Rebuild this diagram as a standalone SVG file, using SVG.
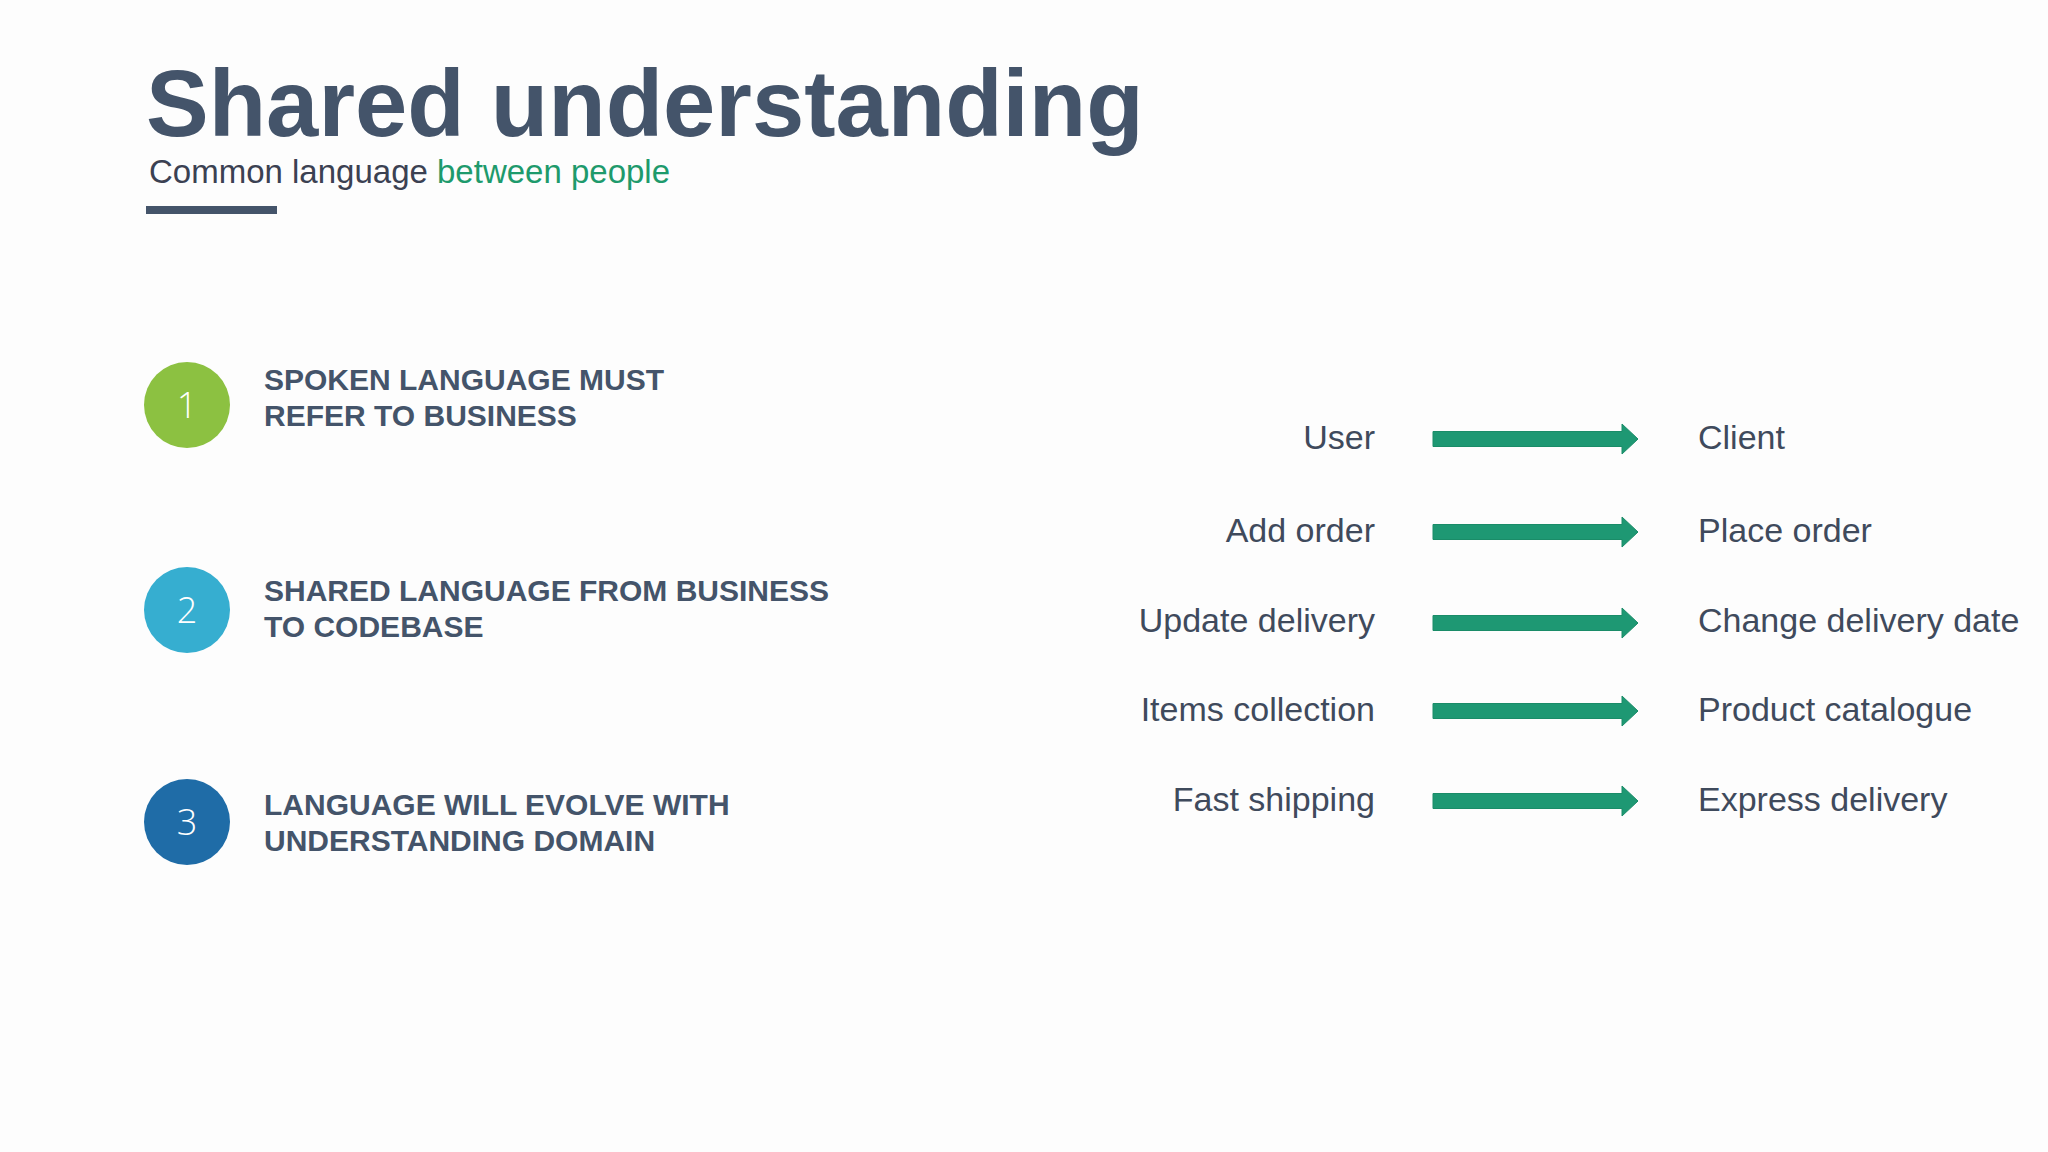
<svg xmlns="http://www.w3.org/2000/svg" width="2048" height="1152" viewBox="0 0 2048 1152">
<style>
.title{font-family:"Liberation Sans",Arial,sans-serif;font-weight:bold;font-size:94px;fill:#44546a}
.sub{font-family:"Liberation Sans",Arial,sans-serif;font-size:33px;fill:#3b4152}
.green{fill:#1e9a6c}
.item{font-family:"Liberation Sans",Arial,sans-serif;font-weight:bold;font-size:30px;fill:#44546a}
.num{font-family:"Open Sans",sans-serif;font-weight:300;font-size:36px;fill:#ffffff;text-anchor:middle}
.lbl{font-family:"Liberation Sans",Arial,sans-serif;font-size:34px;fill:#3f4a5c}
.lft{text-anchor:end}
.arrow{fill:#1e9873;stroke:#1a8c68;stroke-width:1}
</style>
<defs>
<path id="arr" d="M0,-7.5 H189 V-15 L205,0 L189,15 V7.5 H0 Z"/>
</defs>
<rect width="2048" height="1152" fill="#fdfdfd"/>
<g id="header">
<text class="title" x="146" y="136">Shared understanding</text>
<text class="sub" x="149" y="183">Common language <tspan class="green">between people</tspan></text>
<rect x="146" y="206" width="131" height="8" fill="#44546a"/>
</g>
<g id="item1">
<circle cx="187" cy="405" r="43" fill="#8cc141"/>
<text class="num" x="187" y="418">1</text>
<text class="item" x="264" y="390">SPOKEN LANGUAGE MUST</text>
<text class="item" x="264" y="426">REFER TO BUSINESS</text>
</g>
<g id="item2">
<circle cx="187" cy="610" r="43" fill="#36aed0"/>
<text class="num" x="187" y="623">2</text>
<text class="item" x="264" y="601">SHARED LANGUAGE FROM BUSINESS</text>
<text class="item" x="264" y="637">TO CODEBASE</text>
</g>
<g id="item3">
<circle cx="187" cy="822" r="43" fill="#1f6ca7"/>
<text class="num" x="187" y="835">3</text>
<text class="item" x="264" y="815">LANGUAGE WILL EVOLVE WITH</text>
<text class="item" x="264" y="851">UNDERSTANDING DOMAIN</text>
</g>
<g id="term-user"><text class="lbl lft" x="1375" y="449">User</text></g>
<g id="term-client"><text class="lbl" x="1698" y="449">Client</text></g>
<g id="term-add-order"><text class="lbl lft" x="1375" y="542">Add order</text></g>
<g id="term-place-order"><text class="lbl" x="1698" y="542">Place order</text></g>
<g id="term-update-delivery"><text class="lbl lft" x="1375" y="632">Update delivery</text></g>
<g id="term-change-delivery-date"><text class="lbl" x="1698" y="632">Change delivery date</text></g>
<g id="term-items-collection"><text class="lbl lft" x="1375" y="721">Items collection</text></g>
<g id="term-product-catalogue"><text class="lbl" x="1698" y="721">Product catalogue</text></g>
<g id="term-fast-shipping"><text class="lbl lft" x="1375" y="811">Fast shipping</text></g>
<g id="term-express-delivery"><text class="lbl" x="1698" y="811">Express delivery</text></g>
<g id="connectors">
<use href="#arr" class="arrow" x="1433" y="439"/>
<use href="#arr" class="arrow" x="1433" y="532"/>
<use href="#arr" class="arrow" x="1433" y="623"/>
<use href="#arr" class="arrow" x="1433" y="711"/>
<use href="#arr" class="arrow" x="1433" y="801"/>
</g>
</svg>
